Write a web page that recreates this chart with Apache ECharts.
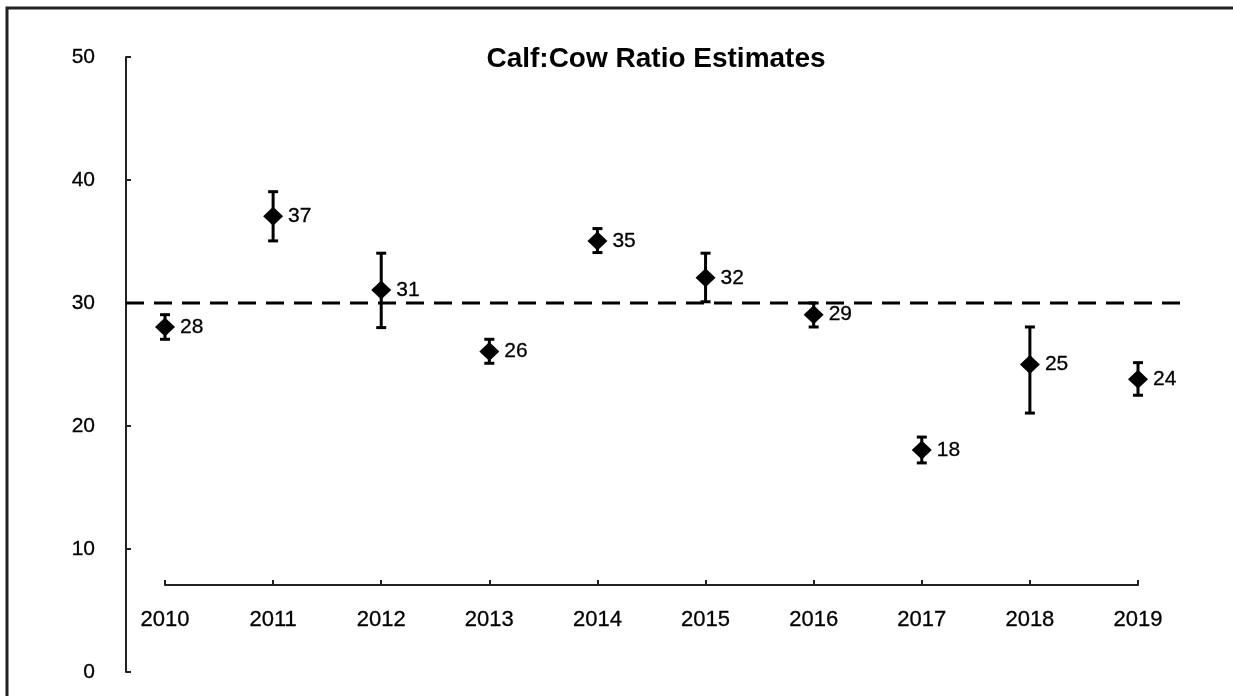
<!DOCTYPE html>
<html>
<head>
<meta charset="utf-8">
<script src="https://cdn.jsdelivr.net/npm/echarts@6/dist/echarts.min.js"></script>
<style>html,body{margin:0;padding:0;background:#fff;}#c{width:1233px;height:696px;}</style>
</head>
<body>
<div id="c"></div>
<script>
const years = ['2010','2011','2012','2013','2014','2015','2016','2017','2018','2019'];
const estimates = [28.05, 37.05, 31.05, 26.05, 35.05, 32.05, 29.05, 18.05, 25.0, 23.8];
const lowerBound = [27.05, 35.05, 28.0, 25.1, 34.1, 30.1, 28.05, 17.0, 21.05, 22.5];
const upperBound = [29.05, 39.05, 34.05, 27.05, 36.05, 34.05, 30.0, 19.1, 28.05, 25.15];
const pointLabels = ['28','37','31','26','35','32','29','18','25','24'];
const referenceLevel = 30;
const yTicks = [0, 10, 20, 30, 40, 50];

const chart = echarts.init(document.getElementById('c'));
const font = 'Liberation Sans, Arial, sans-serif';
chart.setOption({
  backgroundColor: '#fff',
  animation: false,
  title: {
    text: 'Calf:Cow Ratio Estimates',
    left: 651, top: 40, textAlign: 'center',
    textStyle: {fontFamily: font, fontWeight: 'bold', fontSize: 28, color: '#000'}
  },
  graphic: [{
    type: 'rect', shape: {x: 7, y: 8, width: 1400, height: 900},
    style: {fill: 'none', stroke: '#222', lineWidth: 3}, silent: true
  }],
  grid: [
    {left: 165, right: 95, top: 57, bottom: 24},
    {left: 126, right: 53, top: 57, bottom: 24}
  ],
  xAxis: [{
    type: 'category', data: years, boundaryGap: false, gridIndex: 0,
    offset: -87,
    axisLine: {lineStyle: {color: '#222', width: 2}},
    axisTick: {inside: true, length: 5, lineStyle: {color: '#222', width: 2}},
    axisLabel: {margin: 24, fontFamily: font, fontSize: 22, color: '#000', textBorderColor: '#000', textBorderWidth: 0.3},
    splitLine: {show: false}
  }, {
    type: 'value', gridIndex: 1, min: 0, max: 1, show: false
  }],
  yAxis: [{
    type: 'value', gridIndex: 0, min: yTicks[0], max: yTicks[yTicks.length - 1], interval: 10,
    offset: 39,
    axisLine: {show: true, lineStyle: {color: '#222', width: 2}},
    axisTick: {show: true, inside: true, length: 5, lineStyle: {color: '#222', width: 2}},
    axisLabel: {margin: 31, fontFamily: font, fontSize: 21, color: '#000', textBorderColor: '#000', textBorderWidth: 0.3},
    splitLine: {show: false}
  }, {
    type: 'value', gridIndex: 1, min: yTicks[0], max: yTicks[yTicks.length - 1], show: false
  }],
  series: [{
    type: 'line', xAxisIndex: 1, yAxisIndex: 1,
    data: [[0, referenceLevel], [1, referenceLevel]],
    symbol: 'none', silent: true, z: 1,
    lineStyle: {color: '#000', width: 3, type: [18, 10]}
  }, {
    type: 'custom', xAxisIndex: 0, yAxisIndex: 0, z: 3,
    data: years.map((y, i) => [i, lowerBound[i], upperBound[i]]),
    renderItem: function (params, api) {
      const lo = api.coord([api.value(0), api.value(1)]);
      const hi = api.coord([api.value(0), api.value(2)]);
      const cap = 5;
      const st = {stroke: '#000', lineWidth: 3};
      return {type: 'group', children: [
        {type: 'line', shape: {x1: lo[0], y1: lo[1], x2: hi[0], y2: hi[1]}, style: st},
        {type: 'line', shape: {x1: lo[0] - cap, y1: lo[1], x2: lo[0] + cap, y2: lo[1]}, style: st},
        {type: 'line', shape: {x1: hi[0] - cap, y1: hi[1], x2: hi[0] + cap, y2: hi[1]}, style: st}
      ]};
    }
  }, {
    type: 'scatter', xAxisIndex: 0, yAxisIndex: 0, z: 4,
    data: estimates.map((v, i) => ({value: [i, v], label: {formatter: pointLabels[i]}})),
    symbol: 'diamond', symbolSize: [20, 19],
    itemStyle: {color: '#000', opacity: 1},
    label: {show: true, position: 'right', distance: 5, fontFamily: font, fontSize: 21, color: '#000', textBorderColor: '#000', textBorderWidth: 0.3}
  }]
});
</script>
</body>
</html>
